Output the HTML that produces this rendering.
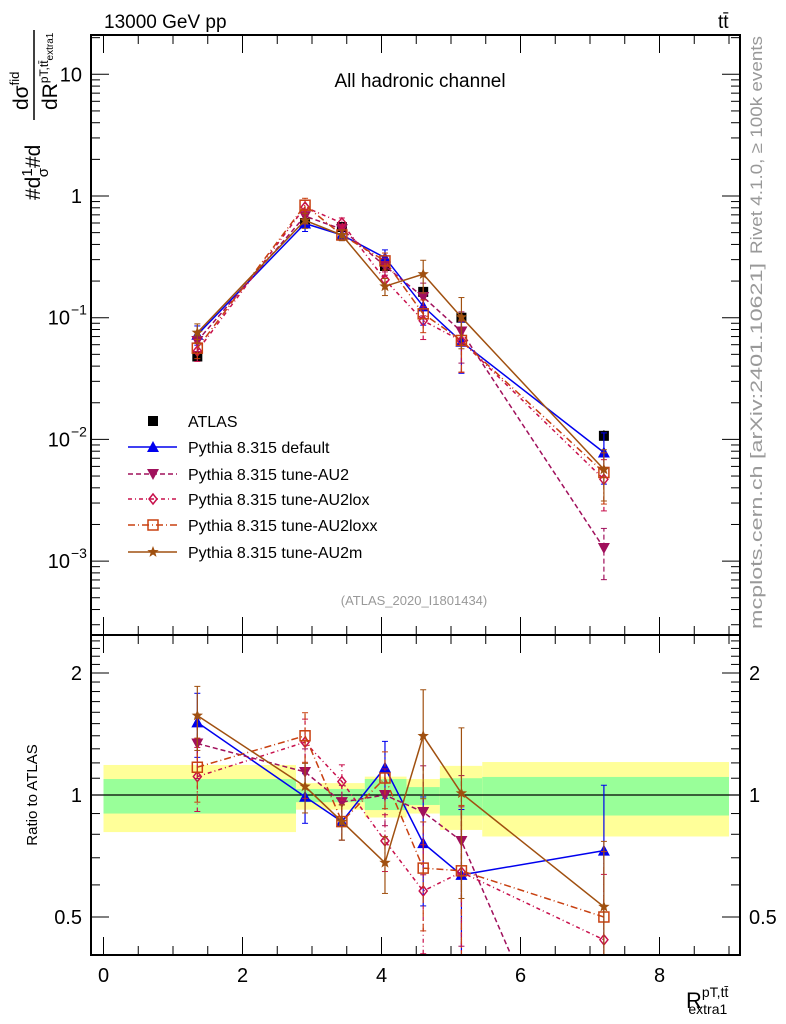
<!DOCTYPE html>
<html><head><meta charset="utf-8"><style>
html,body{margin:0;background:#fff;overflow:hidden;width:786px;height:1024px;}
svg{display:block;font-family:"Liberation Sans",sans-serif;overflow:hidden;}
</style></head><body>
<svg id="c" width="786" height="1024" viewBox="0 0 786 1024" xmlns="http://www.w3.org/2000/svg">
<defs>
<clipPath id="cm"><rect x="91" y="35" width="649" height="600"/></clipPath>
<clipPath id="cr"><rect x="91" y="635" width="649" height="320"/></clipPath>
</defs>
<g id="bands" clip-path="url(#cr)"></g>
<g id="ratio" clip-path="url(#cr)"></g>
<g id="main" clip-path="url(#cm)"></g>
<g id="axes"></g>
<text x="104" y="28" font-size="19">13000 GeV pp</text>
<text x="718" y="28" font-size="19">tt̄</text>
<text x="420" y="87" font-size="19" text-anchor="middle">All hadronic channel</text>
<text x="414" y="605" font-size="13" fill="#999" text-anchor="middle">(ATLAS_2020_I1801434)</text>
<text transform="translate(762,145) rotate(-90)" font-size="17" fill="#999" text-anchor="middle" textLength="218" lengthAdjust="spacingAndGlyphs">Rivet 4.1.0, ≥ 100k events</text>
<text transform="translate(762,446) rotate(-90)" font-size="17" fill="#999" text-anchor="middle" textLength="366" lengthAdjust="spacingAndGlyphs">mcplots.cern.ch [arXiv:2401.10621]</text>
<g transform="translate(40,110) rotate(-90)">
<text x="-90" y="0" font-size="21">#d<tspan font-size="15" dy="-8">1</tspan><tspan font-size="15" dx="-9" dy="16">σ</tspan><tspan dy="-8">#d</tspan></text>
<line x1="-10" y1="-6" x2="80" y2="-6" stroke="#000" stroke-width="1.5"/>
<text x="0" y="-12" font-size="21">dσ<tspan font-size="13" dy="-9">fid</tspan></text>
<text x="0" y="17" font-size="21">dR<tspan font-size="12" dy="-9">pT,tt̄</tspan><tspan font-size="10" dy="5">extra1</tspan></text>
</g>
<text transform="translate(37,795) rotate(-90)" font-size="15" text-anchor="middle">Ratio to ATLAS</text>
<text x="686" y="1008" font-size="22">R<tspan font-size="14" dy="-11">pT,tt̄</tspan><tspan font-size="14" dx="-40" dy="17">extra1</tspan></text>
<g id="legend"></g>
</svg>
<script>
// ---- data ----
const xVals = [1.35, 2.9, 3.43, 4.05, 4.6, 5.15, 7.2];
const atlas = [0.048, 0.60, 0.556, 0.266, 0.163, 0.10, 0.0107];
const atlasErr = [0.004, 0.05, 0.04, 0.03, 0.015, 0.01, 0.0012];
const pyDefault = [0.0725, 0.594, 0.478, 0.311, 0.124, 0.0635, 0.0078];
const pyAU2 = [0.0643, 0.684, 0.534, 0.266, 0.148, 0.077, 0.00128];
const pyAU2lox = [0.0533, 0.81, 0.60, 0.205, 0.0945, 0.0645, 0.0047];
const pyAU2loxx = [0.0562, 0.84, 0.478, 0.293, 0.1076, 0.065, 0.00535];
const pyAU2m = [0.0754, 0.63, 0.478, 0.181, 0.228, 0.101, 0.00567];
const mcRelErr = [0.18, 0.14, 0.1, 0.16, 0.3, 0.45, 0.45];
const bandEdges = [0, 2.77, 3.76, 4.36, 4.84, 5.45, 9.0];
const yellowHi = [1.186, 1.07, 1.11, 1.095, 1.18, 1.206];
const yellowLo = [0.81, 0.92, 0.88, 0.90, 0.82, 0.79];
const greenHi = [1.095, 1.035, 1.095, 1.046, 1.10, 1.108];
const greenLo = [0.90, 0.96, 0.918, 0.945, 0.89, 0.89];
const xTicks = [0, 2, 4, 6, 8];
const ratioTickLabels = ["0.5", "1", "2"];
const ratioTickVals = [0.5, 1, 2];

// ---- axes ----
const X = v => 103.5 + 69.5 * v;
const Ym = v => 196 - 121.7 * Math.log10(v);
const Yr = v => 795 - 122 * Math.log2(v);
const NS = "http://www.w3.org/2000/svg";
function el(tag, attrs, parent) {
  const e = document.createElementNS(NS, tag);
  for (const k in attrs) e.setAttribute(k, attrs[k]);
  parent.appendChild(e); return e;
}
const gMain = document.getElementById('main'), gRatio = document.getElementById('ratio');
const gAxes = document.getElementById('axes'), gBands = document.getElementById('bands'), gLeg = document.getElementById('legend');

for (let i = 0; i < bandEdges.length - 1; i++) {
  const x1 = X(bandEdges[i]), w = X(bandEdges[i + 1]) - x1;
  const y = el('rect', {x: x1, y: Yr(yellowHi[i]), width: w, height: Yr(yellowLo[i]) - Yr(yellowHi[i]), fill: '#ffff99'}, gBands);
  
  
  const g = el('rect', {x: x1, y: Yr(greenHi[i]), width: w, height: Yr(greenLo[i]) - Yr(greenHi[i]), fill: '#99ff99'}, gBands);
  
  
}
el('line', {x1: 91, y1: Yr(1), x2: 740, y2: Yr(1), stroke: '#000', 'stroke-width': 1.2}, gRatio);

function marker(type, cx, cy, color, parent) {
  let m;
  if (type === 'sq') m = el('rect', {x: cx - 5, y: cy - 5, width: 10, height: 10, fill: '#000'}, parent);
  else if (type === 'up') m = el('polygon', {points: `${cx},${cy - 6} ${cx - 6},${cy + 5} ${cx + 6},${cy + 5}`, fill: color}, parent);
  else if (type === 'down') m = el('polygon', {points: `${cx},${cy + 6} ${cx - 6},${cy - 5} ${cx + 6},${cy - 5}`, fill: color}, parent);
  else if (type === 'dia') m = el('polygon', {points: `${cx},${cy - 5} ${cx - 4},${cy} ${cx},${cy + 5} ${cx + 4},${cy}`, fill: 'none', stroke: color, 'stroke-width': 1.5}, parent);
  else if (type === 'osq') m = el('rect', {x: cx - 5, y: cy - 5, width: 10, height: 10, fill: 'none', stroke: color, 'stroke-width': 1.5}, parent);
  else if (type === 'star') {
    let p = [];
    for (let k = 0; k < 10; k++) { const r = k % 2 ? 2.5 : 6, a = -Math.PI / 2 + k * Math.PI / 5; p.push((cx + r * Math.cos(a)).toFixed(1) + ',' + (cy + r * Math.sin(a)).toFixed(1)); }
    m = el('polygon', {points: p.join(' '), fill: color}, parent);
  }
  return m;
}

const series = [
  {name: 'pythia-default', vals: pyDefault, color: '#0000ee', dash: '', mk: 'up', label: 'Pythia 8.315 default'},
  {name: 'pythia-au2', vals: pyAU2, color: '#a0105c', dash: '5,3', mk: 'down', label: 'Pythia 8.315 tune-AU2'},
  {name: 'pythia-au2lox', vals: pyAU2lox, color: '#c8104c', dash: '4,3,1,3', mk: 'dia', label: 'Pythia 8.315 tune-AU2lox'},
  {name: 'pythia-au2loxx', vals: pyAU2loxx, color: '#c84010', dash: '7,3,1,3', mk: 'osq', label: 'Pythia 8.315 tune-AU2loxx'},
  {name: 'pythia-au2m', vals: pyAU2m, color: '#a05010', dash: '', mk: 'star', label: 'Pythia 8.315 tune-AU2m'}
];

function drawSeries(s, parent, Yf, ratio, yMax) {
  const g = el('g', {}, parent);
  
  
  const v = s.vals.map((y, i) => ratio ? y / atlas[i] : y);
  const P = v.map((y, i) => [X(xVals[i]), Yf(y)]);
  // clip polyline to yMax
  const out = [P[0]];
  let stop = false;
  for (let i = 1; i < P.length && !stop; i++) {
    const [x0, y0] = P[i - 1], [x1, y1] = P[i];
    if (y1 > yMax) { const t = (yMax - y0) / (y1 - y0); out.push([x0 + t * (x1 - x0), yMax]); stop = true; }
    else out.push(P[i]);
  }
  const line = el('polyline', {points: out.map(p => p[0].toFixed(1) + ',' + p[1].toFixed(1)).join(' '), fill: 'none', stroke: s.color, 'stroke-width': 1.5}, g);
  if (s.dash) line.setAttribute('stroke-dasharray', s.dash);
  v.forEach((y, i) => {
    const cx = X(xVals[i]), e = mcRelErr[i];
    if (Yf(y) > yMax) return;
    const lo = Math.max(y * (1 - e), 1e-5), hi = y * (1 + e);
    const ylo = Math.min(Yf(lo), yMax), yhi = Yf(hi);
    const b = el('line', {x1: cx, y1: ylo, x2: cx, y2: yhi, stroke: s.color, 'stroke-width': 1.2}, g);
    if (s.dash) b.setAttribute('stroke-dasharray', s.dash);
    el('line', {x1: cx - 3, y1: ylo, x2: cx + 3, y2: ylo, stroke: s.color}, g);
    el('line', {x1: cx - 3, y1: yhi, x2: cx + 3, y2: yhi, stroke: s.color}, g);
    const m = marker(s.mk, cx, Yf(y), s.color, g);
    
    
  });
}

const ga = el('g', {}, gMain);


atlas.forEach((y, i) => {
  const cx = X(xVals[i]);
  el('line', {x1: cx, y1: Ym(y - atlasErr[i]), x2: cx, y2: Ym(y + atlasErr[i]), stroke: '#000'}, ga);
  const m = marker('sq', cx, Ym(y), '#000', ga);
  
  
});
series.forEach(s => { drawSeries(s, gMain, Ym, false, 640); drawSeries(s, gRatio, Yr, true, 958); });

el('rect', {x: 91, y: 35, width: 649, height: 600, fill: 'none', stroke: '#000', 'stroke-width': 2}, gAxes);
el('rect', {x: 91, y: 635, width: 649, height: 320, fill: 'none', stroke: '#000', 'stroke-width': 2}, gAxes);
for (let v = 0; v <= 9; v += 0.5) {
  const x = X(v), maj = Math.abs(v % 2) < 1e-9, L = maj ? 18 : 9;
  [[35, 1], [635, -1], [635, 1], [955, -1]].forEach(([y0, d]) => el('line', {x1: x, y1: y0, x2: x, y2: y0 + d * L, stroke: '#000', 'stroke-width': 1}, gAxes));
}
xTicks.forEach(v => {
  const t = el('text', {x: X(v), y: 982, 'font-size': 20, 'text-anchor': 'middle'}, gAxes);
  t.textContent = v;
  
  
});
for (let d = -4; d <= 1; d++) for (let k = 1; k <= 9; k++) {
  const v = k * Math.pow(10, d), y = Ym(v);
  if (y < 35 || y > 635) continue;
  const L = k === 1 ? 18 : 9;
  el('line', {x1: 91, y1: y, x2: 91 + L, y2: y, stroke: '#000'}, gAxes);
  el('line', {x1: 740, y1: y, x2: 740 - L, y2: y, stroke: '#000'}, gAxes);
}
const mainLabels = [[10, '10'], [1, '1']];
mainLabels.forEach(([v, s]) => { const t = el('text', {x: 82, y: Ym(v) + 7, 'font-size': 20, 'text-anchor': 'end'}, gAxes); t.textContent = s;   });
[-1, -2, -3].forEach(p => {
  const t = el('text', {x: 70, y: Ym(Math.pow(10, p)) + 7, 'font-size': 20, 'text-anchor': 'end'}, gAxes);
  t.textContent = '10';
  
  
  const e = el('text', {x: 71, y: Ym(Math.pow(10, p)) - 3, 'font-size': 14}, gAxes);
  e.textContent = '−' + (-p);
});
for (let v = 0.4; v <= 2.5; v += 0.1) {
  const y = Yr(v); if (y < 635 || y > 955) continue;
  const maj = ratioTickVals.some(t => Math.abs(t - v) < 1e-6);
  const L = maj ? 18 : 9;
  el('line', {x1: 91, y1: y, x2: 91 + L, y2: y, stroke: '#000'}, gAxes);
  el('line', {x1: 740, y1: y, x2: 740 - L, y2: y, stroke: '#000'}, gAxes);
}
ratioTickVals.forEach((v, i) => {
  const t = el('text', {x: 82, y: Yr(v) + 7, 'font-size': 20, 'text-anchor': 'end'}, gAxes);
  t.textContent = ratioTickLabels[i];
  
  
  const t2 = el('text', {x: 749, y: Yr(v) + 7, 'font-size': 20}, gAxes);
  t2.textContent = ratioTickLabels[i];
  
  
});
const legY = [421, 447, 474, 499, 525, 552];
marker('sq', 153, legY[0], '#000', gLeg);
const lt0 = el('text', {x: 188, y: legY[0] + 6, 'font-size': 16}, gLeg);
lt0.textContent = 'ATLAS';


series.forEach((s, i) => {
  const y = legY[i + 1];
  const l = el('line', {x1: 128, y1: y, x2: 177, y2: y, stroke: s.color, 'stroke-width': 1.5}, gLeg);
  if (s.dash) l.setAttribute('stroke-dasharray', s.dash);
  marker(s.mk, 153, y, s.color, gLeg);
  const t = el('text', {x: 188, y: y + 6, 'font-size': 16}, gLeg);
  t.textContent = s.label;
  
  
});
</script>
</body></html>
